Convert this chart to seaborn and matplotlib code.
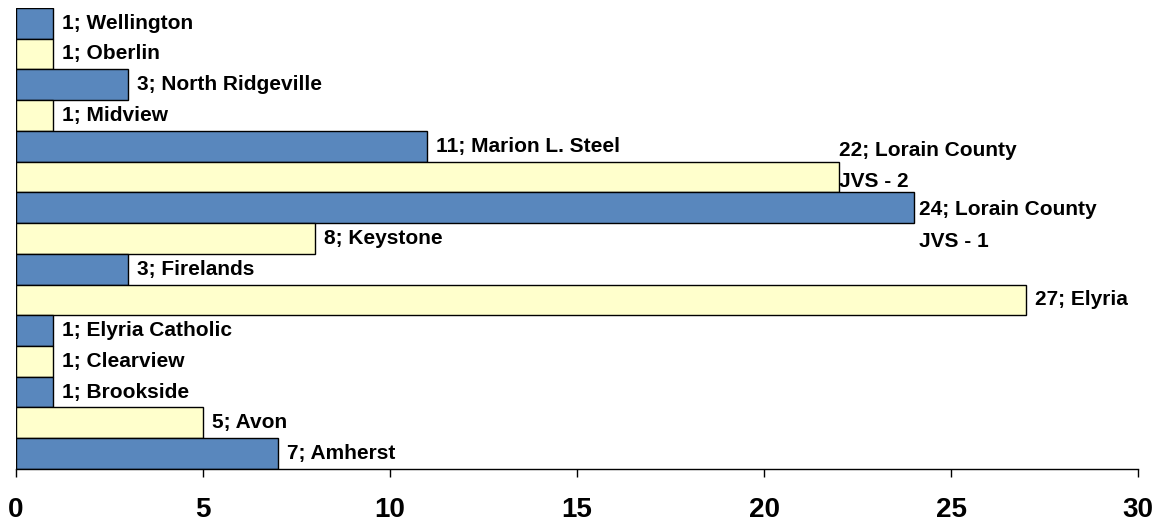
import matplotlib
matplotlib.use("Agg")
import matplotlib.pyplot as plt
import seaborn as sns
import pandas as pd

# Data (top to bottom)
schools = ["Wellington", "Oberlin", "North Ridgeville", "Midview", "Marion L. Steel",
           "Lorain County\nJVS - 2", "Lorain County\nJVS - 1", "Keystone", "Firelands",
           "Elyria", "Elyria Catholic", "Clearview", "Brookside", "Avon", "Amherst"]
counts = [1, 1, 3, 1, 11, 22, 24, 8, 3, 27, 1, 1, 1, 5, 7]
xTicks = [0, 5, 10, 15, 20, 25, 30]

blue = "#5987BD"
yellow = "#FFFFCC"
colors = [blue if i % 2 == 0 else yellow for i in range(len(schools))]

df = pd.DataFrame({"school": schools, "count": counts})

sns.set_style("white")
plt.rcParams['font.family'] = ['Liberation Sans', 'DejaVu Sans']
plt.rcParams['text.color'] = 'black'
plt.rcParams['xtick.color'] = 'black'

fig = plt.figure(figsize = (11.58, 5.24), dpi = 100)
ax = fig.add_axes([0.0138, 0.105, 0.969, 0.88])

sns.barplot(data = df, x = "count", y = "school", hue = "school", palette = colors,
            orient = "h", width = 1.0, edgecolor = "black", linewidth = 1,
            legend = False, saturation = 1, ax = ax)

# Data labels
for i, (name, val) in enumerate(zip(schools, counts)):
    dx, dy = 9, 0
    if name == "Lorain County\nJVS - 2":
        dx, dy = 0, 11
    elif name == "Lorain County\nJVS - 1":
        dx, dy = 5, -18
    ax.annotate(f"{val}; {name}", xy = (val, i), xytext = (dx, dy),
                textcoords = "offset pixels", va = "center", ha = "left",
                fontsize = 15, fontweight = "bold", linespacing = 1.85, color = "black")

ax.set_xlim(0, 30)
ax.set_ylim(len(schools) - 0.5, -0.5)
ax.set_xticks(xTicks)
ax.set_xticklabels([str(t) for t in xTicks], fontsize = 20, fontweight = "bold", color = "black")
ax.set_yticks([])
ax.set_xlabel("")
ax.set_ylabel("")

for side in ["top", "right", "left"]:
    ax.spines[side].set_visible(False)
ax.spines["bottom"].set_color("black")
ax.spines["bottom"].set_linewidth(1)
ax.tick_params(axis = "x", direction = "out", length = 6, width = 1, color = "black", pad = 14, bottom = True)

fig.savefig("out.png", dpi = 100)
plt.close(fig)
